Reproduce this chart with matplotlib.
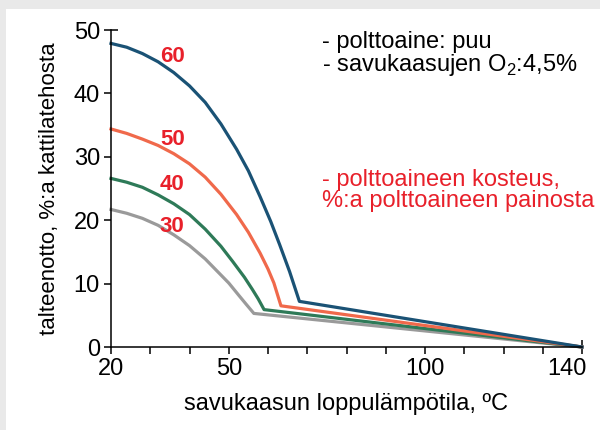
import matplotlib
matplotlib.use("Agg")
import matplotlib.pyplot as plt
from matplotlib.patches import Rectangle
from matplotlib.transforms import ScaledTranslation

plt.rcParams['font.family'] = ['Liberation Sans', 'DejaVu Sans']
plt.rcParams['mathtext.fontset'] = 'custom'
plt.rcParams['mathtext.rm'] = 'Liberation Sans'

# moisture content of fuel, % -> curve
moisture = [60, 50, 40, 30]
x60 = [20, 24, 28, 32, 36, 40, 44, 48, 52, 55, 58, 60.7, 63, 65.5, 68.0, 140]
y60 = [47.9, 47.3, 46.3, 45.0, 43.3, 41.2, 38.6, 35.2, 31.2, 27.8, 23.7, 19.8, 16.1, 11.9, 7.2, 0]
x50 = [20, 24, 28, 32, 36, 40, 44, 48, 52, 55, 58, 60, 61.5, 63.3, 140]
y50 = [34.4, 33.7, 32.8, 31.8, 30.5, 28.9, 26.8, 24.1, 20.9, 18.1, 14.8, 12.3, 10.1, 6.5, 0]
x40 = [20, 24, 28, 32, 36, 40, 44, 48, 51, 54, 56, 57.5, 59.0, 140]
y40 = [26.6, 26.0, 25.2, 24.0, 22.6, 20.9, 18.6, 15.9, 13.5, 11.0, 9.1, 7.6, 5.9, 0]
x30 = [20, 24, 28, 32, 36, 40, 44, 47, 50, 52.5, 54.5, 56.4, 140]
y30 = [21.7, 21.1, 20.3, 19.2, 17.7, 16.0, 13.9, 12.0, 10.1, 8.2, 6.7, 5.3, 0]
colors = ['#1a5275', '#f0694b', '#2e7a58', '#9a9a9a']
label_y = [45.8, 32.7, 25.6, 19.0]

xticks = list(range(20, 141, 10))
xlabels = ['20', '', '', '50', '', '', '', '', '100', '', '', '', '140']
yticks = [0, 10, 20, 30, 40, 50]

fig = plt.figure(figsize=(6, 4.3), dpi=100)
fig.patch.set_facecolor('#e9e9e9')
fig.patches.append(Rectangle((6 / 600, 0), 1, 1 - 9 / 430, transform=fig.transFigure,
                             facecolor='white', edgecolor='none', zorder=-10))
ax = fig.add_axes([0.185, 0.193, 0.785, 0.737])
ax.set_facecolor('none')

series = [(x60, y60), (x50, y50), (x40, y40), (x30, y30)]
for (xs, ys), c in zip(series[::-1], colors[::-1]):
    ax.plot(xs, ys, color=c, lw=2.3, solid_joinstyle='round', clip_on=False)

for m, ly in zip(moisture, label_y):
    ax.text(35.6, ly, str(m), color='#e8202a', fontsize=16, fontweight='bold',
            ha='center', va='center')

ax.set_xlim(20, 140)
ax.set_ylim(0, 50)
ax.set_xticks(xticks)
ax.set_xticklabels(xlabels)
ax.set_yticks(yticks)
for s in ['top', 'right']:
    ax.spines[s].set_visible(False)
for s in ['left', 'bottom']:
    ax.spines[s].set_linewidth(1.1)
ax.tick_params(length=5, width=1.1, labelsize=17, pad=3)

# end ticks cross the axis
t = ax.xaxis.get_major_ticks()[-1]
t.tick1line.set_marker('|')
t.tick1line.set_markersize(10)
t.label1.set_transform(t.label1.get_transform() + ScaledTranslation(-0.15, 0, fig.dpi_scale_trans))
t = ax.yaxis.get_major_ticks()[-1]
t.tick1line.set_marker('_')
t.tick1line.set_markersize(10)

ax.set_xlabel('savukaasun loppulämpötila, ºC', fontsize=17, labelpad=9)
ax.set_ylabel('talteenotto, %:a kattilatehosta', fontsize=16, labelpad=10)

fig.text(322 / 600, 1 - 42 / 430, '- polttoaine: puu', fontsize=17, va='center')
fig.text(322 / 600, 1 - 65 / 430, '- savukaasujen O$_\\mathrm{2}$:4,5%', fontsize=17, va='center')
fig.text(322 / 600, 1 - 180 / 430, '- polttoaineen kosteus,', fontsize=17, va='center', color='#e8202a')
fig.text(322 / 600, 1 - 201 / 430, '%:a polttoaineen painosta', fontsize=17, va='center', color='#e8202a')

fig.savefig('out.png', dpi=100)
